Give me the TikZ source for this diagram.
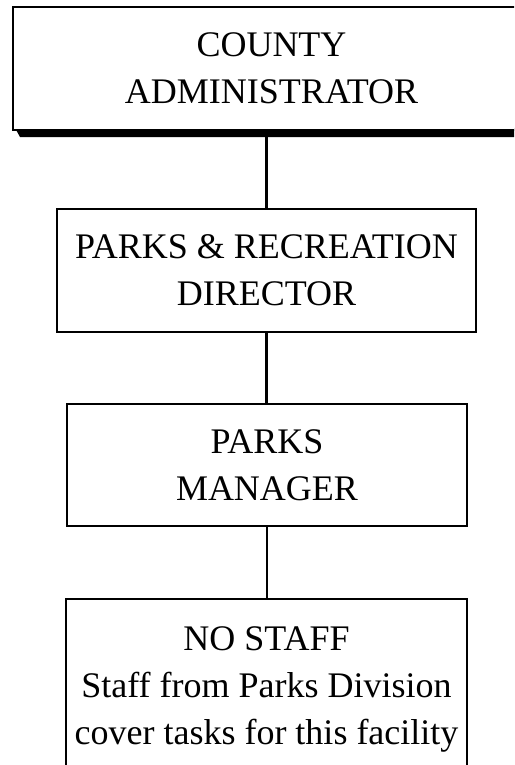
\documentclass[tikz,border=0pt]{standalone}
\usepackage{fontspec}
\setmainfont{Liberation Serif}
\begin{document}
\begin{tikzpicture}[x=1pt,y=-1pt,
  orgbox/.style={draw=black,line width=2.6pt,fill=white,inner sep=0pt,
    align=center,font=\fontsize{36}{47}\selectfont},
  link/.style={draw=black,line width=2.6pt}]
\useasboundingbox (0,0) rectangle (514,765);
\clip (0,0) rectangle (514,765);

% top box with its drop shadow
\fill[black] (15,128) -- (545,128) -- (545,137) -- (20,137) -- cycle;
\node[orgbox,minimum width=517pt,minimum height=123pt] (admin) at (271.5,68.5)
  {COUNTY\\ADMINISTRATOR};

\node[orgbox,minimum width=419pt,minimum height=123pt] (director) at (266.5,270.5)
  {PARKS \& RECREATION\\DIRECTOR};

\node[orgbox,minimum width=400pt,minimum height=122pt] (manager) at (267,465)
  {PARKS\\MANAGER};

\node[orgbox,minimum width=401pt,minimum height=180pt] (nostaff) at (266.5,689)
  {NO STAFF\\Staff from Parks Division\\cover tasks for this facility};

% reporting lines
\draw[link] (director.north) -- (director.north |- admin.south);
\draw[link] (director.south) -- (director.south |- manager.north);
\draw[link] (manager.south) -- (manager.south |- nostaff.north);
\end{tikzpicture}
\end{document}
